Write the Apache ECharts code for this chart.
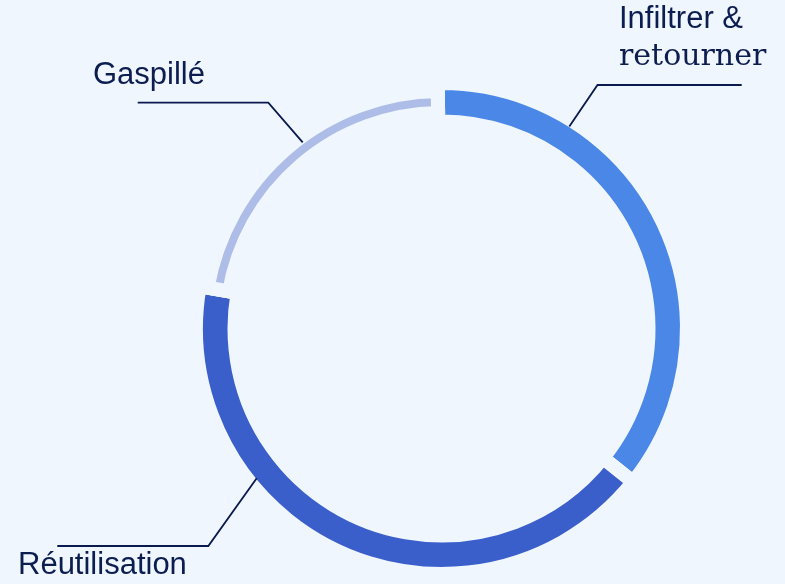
<!DOCTYPE html>
<html>
<head>
<meta charset="utf-8">
<script src="https://cdn.jsdelivr.net/npm/echarts@6/dist/echarts.min.js"></script>
<style>
  html, body { margin: 0; padding: 0; background: #eff6fe; }
  #chart { width: 785px; height: 584px; }
</style>
</head>
<body>
<div id="chart"></div>
<script>
// ---- data ----
const categories = ['Infiltrer & retourner', 'Réutilisation', 'Gaspillé'];
const values = [36, 42, 22];
const colors = ['#4a87e7', '#3a5fcb', '#adbde8'];
const thinCategories = ['Gaspillé'];

// ---- style / layout ----
const BG = '#eff6fe';
const TEXT = '#0c1d50';
const GAP = 14;
const center = [441.5, 328.5];

// label placement (annotation layout)
const labelPlacement = {
  'Infiltrer & retourner': { x: 619, y: 0, va: 'top', pts: [[569.3, 126.5], [597.5, 85], [741.7, 85]] },
  'Réutilisation': { x: 18, y: 565.5, va: 'middle', pts: [[256.7, 478.3], [208.3, 546], [57.3, 546]] },
  'Gaspillé': { x: 93, y: 75, va: 'middle', pts: [[302.7, 142.3], [268.3, 102.7], [137.7, 102.7]] }
};

const thickData = categories.map((name, i) => {
  const thin = thinCategories.includes(name);
  return {
    name, value: values[i],
    itemStyle: { color: thin ? 'rgba(0,0,0,0)' : colors[i], borderColor: BG, borderWidth: GAP }
  };
});
const thinData = categories.map((name, i) => {
  const thin = thinCategories.includes(name);
  return {
    name, value: values[i],
    itemStyle: thin ? { color: colors[i], borderColor: BG, borderWidth: GAP }
                    : { color: 'rgba(0,0,0,0)', borderWidth: 0 }
  };
});
const labelData = categories.map((name, i) => ({
  name, value: values[i],
  itemStyle: { color: 'rgba(0,0,0,0)', borderWidth: 0 }
}));

const common = {
  type: 'pie',
  center: center,
  startAngle: 90.9,
  clockwise: true,
  avoidLabelOverlap: false,
  silent: true,
  emphasis: { disabled: true }
};

const chart = echarts.init(document.getElementById('chart'), null, { renderer: 'canvas' });
chart.setOption({
  backgroundColor: BG,
  animation: false,
  series: [
    Object.assign({}, common, {
      radius: [214 - GAP / 2, 238.5 + GAP / 2],
      data: thickData,
      label: { show: false },
      labelLine: { show: false },
      z: 1
    }),
    Object.assign({}, common, {
      radius: [222.5 - GAP / 2, 230.5 + GAP / 2],
      data: thinData,
      label: { show: false },
      labelLine: { show: false },
      z: 2
    }),
    Object.assign({}, common, {
      radius: [214, 238.5],
      data: labelData,
      z: 3,
      label: {
        show: true,
        position: 'outside',
        formatter: p => {
          const parts = p.name.split(' & ');
          if (parts.length > 1) return '{a|' + parts[0] + ' &}\n{b|' + parts[1] + '}';
          return '{a|' + p.name + '}';
        },
        rich: {
          a: { fontFamily: 'Liberation Sans, Arial, sans-serif', fontSize: 31, color: TEXT, lineHeight: 38 },
          b: { fontFamily: 'DejaVu Serif, serif', fontSize: 30, color: TEXT, lineHeight: 38 }
        }
      },
      labelLine: { show: true, lineStyle: { color: '#0a1a4e', width: 1.8 } },
      labelLayout: function (params) {
        const lp = labelPlacement[categories[params.dataIndex]];
        return {
          x: lp.x, y: lp.y, align: 'left', verticalAlign: lp.va,
          labelLinePoints: lp.pts
        };
      }
    })
  ]
});
</script>
</body>
</html>
